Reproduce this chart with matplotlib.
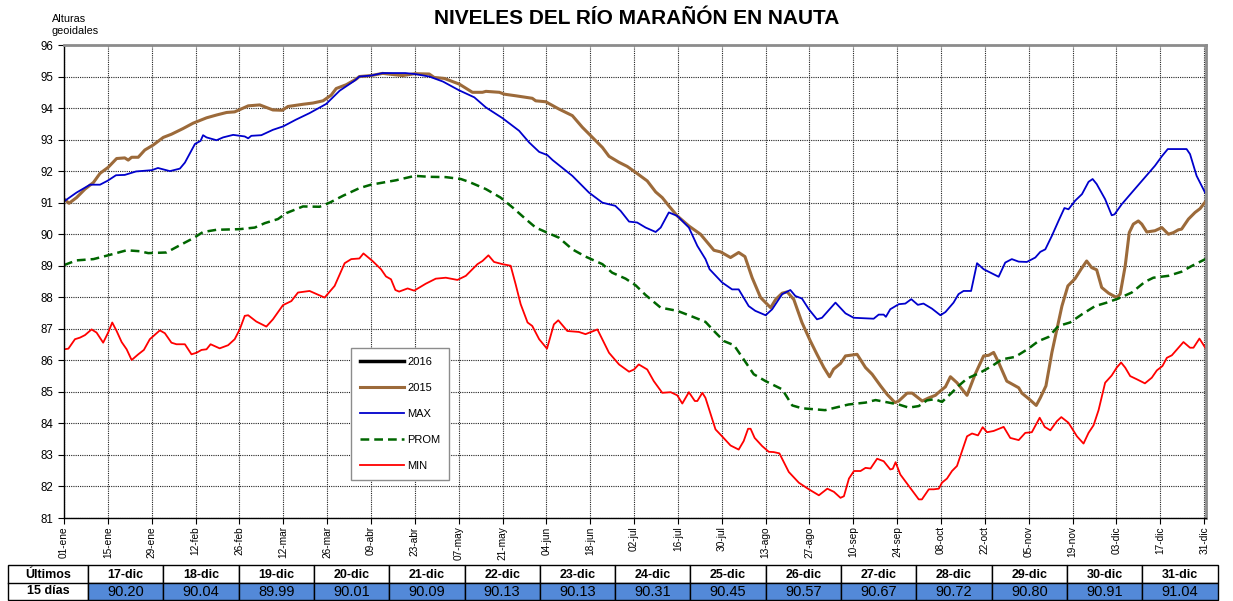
import matplotlib
matplotlib.use("Agg")
import matplotlib.pyplot as plt
from matplotlib.patches import Rectangle

plt.rcParams['font.family'] = ['Liberation Sans', 'DejaVu Sans']

# x = dia del año (0 = 01-ene)
TICK_LABELS = ["01-ene", "15-ene", "29-ene", "12-feb", "26-feb", "12-mar", "26-mar",
               "09-abr", "23-abr", "07-may", "21-may", "04-jun", "18-jun", "02-jul",
               "16-jul", "30-jul", "13-ago", "27-ago", "10-sep", "24-sep", "08-oct",
               "22-oct", "05-nov", "19-nov", "03-dic", "17-dic", "31-dic"]

max_days = [0, 4, 8.3, 11.5, 14, 16.6, 19.4, 23, 28, 30, 33.8, 37, 38.6, 41.8, 43.6, 44.4,
            45.5, 48.7, 50.8, 54, 57.7, 58.8, 59.8, 63, 66.7, 70, 74, 78.4, 83.7, 88, 92.8,
            94.3, 98, 101.7, 106, 109, 112, 116.6, 121, 126, 131, 134.7, 140, 145.3, 148.5,
            151.7, 154.3, 156, 162.3, 167.6, 171.9, 176, 177.7, 180.4, 183, 185.7, 188.9,
            190.5, 193.1, 195.8, 199.5, 202.2, 204.8, 206.1, 210.1, 213.3, 215.4, 218.6,
            220.7, 224, 226.1, 229.3, 231.9, 233.5, 235.6, 237.8, 240.4, 242, 246.3, 249.5,
            252.1, 258.5, 260.1, 261.7, 262.4, 263.8, 266.5, 268.6, 270.5, 272.6, 274.4,
            277.1, 279.8, 281.4, 284, 285.6, 287.2, 289.6, 291.5, 293.6, 298.4, 300.5,
            302.6, 304.8, 307.4, 310.1, 311.7, 313.3, 315.4, 317.5, 319.4, 320.7, 322.8,
            325, 327.1, 328.4, 329.7, 332.4, 334.5, 335.4, 337.7, 340.9, 345.1, 348.3,
            350.5, 352.4, 358.4, 359.5, 361.6, 364.3]
max_vals = [91.04, 91.32, 91.57, 91.57, 91.7, 91.87, 91.88, 91.99, 92.03, 92.1, 92.0, 92.08,
            92.27, 92.86, 92.96, 93.14, 93.07, 92.98, 93.07, 93.15, 93.1, 93.04, 93.12,
            93.14, 93.31, 93.42, 93.63, 93.84, 94.13, 94.55, 94.87, 95.0, 95.03, 95.11,
            95.11, 95.11, 95.08, 95.0, 94.84, 94.57, 94.34, 94.02, 93.68, 93.28, 92.91,
            92.61, 92.51, 92.35, 91.85, 91.32, 91.0, 90.9, 90.74, 90.4, 90.37, 90.21,
            90.07, 90.21, 90.69, 90.58, 90.21, 89.63, 89.21, 88.89, 88.47, 88.25, 88.25,
            87.72, 87.57, 87.43, 87.62, 88.1, 88.23, 88.04, 87.96, 87.62, 87.3, 87.35,
            87.83, 87.49, 87.35, 87.32, 87.45, 87.45, 87.38, 87.62, 87.78, 87.8, 87.94,
            87.76, 87.8, 87.64, 87.43, 87.53, 87.83, 88.1, 88.2, 88.2, 89.08, 88.89, 88.65,
            89.1, 89.21, 89.13, 89.12, 89.26, 89.44, 89.52, 89.95, 90.42, 90.83, 90.79,
            91.06, 91.27, 91.66, 91.75, 91.59, 91.11, 90.6, 90.63, 90.95, 91.32, 91.8,
            92.17, 92.47, 92.7, 92.7, 92.54, 91.85, 91.32]

y2015_days = [0, 1.6, 4, 6.7, 9.4, 11.5, 14.1, 16.8, 19.4, 20.5, 21.6, 23.7, 25.8, 28.5, 31.7,
              34.3, 38, 41.2, 45.5, 48.7, 51.9, 54.5, 58.8, 62.5, 64.6, 66.7, 69.7, 71.5,
              76.3, 79.5, 82.7, 85.3, 86.9, 90.1, 93.3, 94.3, 98, 101.7, 108.1, 112, 116.6,
              118.2, 121.4, 126.2, 130.4, 133.6, 134.7, 139, 140.6, 144.2, 149.5, 150.6,
              153.8, 158, 162.3, 165.5, 168.7, 171.9, 174, 177.2, 179.8, 182.5, 186.2,
              188.9, 191, 193.1, 195.8, 199.5, 203.2, 207.5, 209.6, 212.8, 215.4, 217.4,
              219.7, 222.4, 225.6, 227.2, 229.3, 230.9, 233, 235.6, 238.3, 240.4, 242.6,
              244.4, 245.7, 247.9, 249.5, 253.2, 255.9, 258, 260.7, 262.8, 265.3, 266.5,
              269.2, 270.8, 274, 276.1, 278.2, 279.8, 281.4, 283, 285.1, 288.3, 290.9,
              293.6, 295.2, 296.8, 298.4, 301, 303.7, 304.8, 305.8, 307.9, 310.4, 311.7,
              313.5, 315.4, 317, 318.6, 320.5, 322.8, 324.7, 326.5, 328.1, 329.7, 331.3,
              333.5, 336.1, 337.2, 338.8, 340.1, 341.4, 343, 344.1, 345.7, 348.3, 350.5,
              352.6, 354.2, 355.8, 356.8, 359, 361.1, 362.7, 364.5]
y2015_vals = [91.12, 90.98, 91.16, 91.43, 91.64, 91.93, 92.12, 92.4, 92.42, 92.35, 92.44,
              92.44, 92.67, 92.83, 93.07, 93.17, 93.35, 93.52, 93.69, 93.78, 93.86, 93.88,
              94.07, 94.1, 94.02, 93.94, 93.93, 94.05, 94.12, 94.16, 94.23, 94.41, 94.62,
              94.74, 94.92, 95.0, 95.03, 95.1, 95.03, 95.09, 95.08, 94.97, 94.94, 94.76,
              94.5, 94.5, 94.53, 94.5, 94.44, 94.39, 94.31, 94.23, 94.2, 93.97, 93.76,
              93.39, 93.07, 92.75, 92.47, 92.28, 92.15, 91.96, 91.69, 91.34, 91.16, 90.9,
              90.58, 90.26, 90.0, 89.49, 89.44, 89.26, 89.42, 89.29, 88.62, 87.99, 87.67,
              87.93, 88.13, 88.17, 87.93, 87.2, 86.61, 86.19, 85.77, 85.48, 85.72, 85.9,
              86.14, 86.19, 85.77, 85.56, 85.19, 84.92, 84.66, 84.71, 84.96, 84.96, 84.71,
              84.81, 84.89, 85.03, 85.16, 85.48, 85.29, 84.89, 85.56, 86.14, 86.16, 86.25,
              85.93, 85.34, 85.19, 85.13, 84.96, 84.79, 84.57, 84.81, 85.19, 86.25, 86.98,
              87.72, 88.36, 88.59, 88.89, 89.15, 88.94, 88.87, 88.31, 88.13, 87.99, 88.1,
              88.99, 90.05, 90.32, 90.42, 90.32, 90.07, 90.11, 90.21, 90.0, 90.05, 90.14,
              90.16, 90.48, 90.69, 90.81, 91.04]

prom_days = [0, 4, 9.4, 14.1, 20, 24.2, 26.9, 32.7, 37, 41.2, 44.4, 48.7, 56.1, 60.9, 64.1,
             68.3, 71, 76.3, 81.6, 84.8, 89.1, 94.3, 98, 106, 112, 116.6, 121.9, 126.7,
             129.3, 134.7, 139.4, 143.2, 147.4, 150.6, 153.8, 158, 162.3, 166.5, 171.9,
             175, 179.3, 182.5, 185.7, 190.5, 195.8, 200, 204.8, 208, 210.7, 213.9, 217,
             220.2, 224, 229.3, 232.5, 235.6, 243, 246.3, 250.5, 255.9, 259.1, 263.3,
             266.5, 269.7, 272.9, 275.5, 278.1, 280.3, 283.5, 285.6, 288.3, 292.5, 296.3,
             299.4, 303.7, 307.9, 311.1, 314.3, 317.5, 321.2, 325, 329.2, 332.9, 336.6,
             340.9, 345.1, 347.8, 352.6, 356.8, 360, 364.8]
prom_vals = [89.02, 89.17, 89.21, 89.33, 89.49, 89.46, 89.4, 89.42, 89.65, 89.87, 90.07,
             90.14, 90.16, 90.21, 90.35, 90.48, 90.67, 90.88, 90.87, 91.0, 91.22, 91.46,
             91.57, 91.71, 91.85, 91.82, 91.81, 91.75, 91.66, 91.43, 91.16, 90.85, 90.48,
             90.21, 90.07, 89.89, 89.52, 89.29, 89.05, 88.78, 88.59, 88.38, 88.07, 87.67,
             87.57, 87.41, 87.22, 86.88, 86.61, 86.48, 86.03, 85.56, 85.34, 85.08, 84.57,
             84.48, 84.42, 84.5, 84.6, 84.66, 84.74, 84.66, 84.6, 84.5, 84.55, 84.73,
             84.77, 84.68, 84.98, 85.19, 85.42, 85.61, 85.82, 86.03, 86.11, 86.37, 86.61,
             86.74, 87.09, 87.2, 87.46, 87.72, 87.83, 87.96, 88.15, 88.49, 88.62, 88.68,
             88.81, 88.99, 89.23]

min_days = [0, 1.4, 3.5, 5.1, 6.7, 8.8, 10.4, 12.5, 14.1, 15.4, 16.8, 18.4, 20, 21.6, 23.7,
            25.5, 27.4, 30.6, 32.2, 34.3, 35.9, 38.6, 40.7, 42.3, 43.9, 45.5, 46.8, 49.7,
            52.4, 54.5, 56.1, 57.7, 58.8, 61.4, 64.6, 66.7, 69.9, 72.6, 74.7, 78.4, 80,
            83.2, 86.4, 89.6, 91.7, 94.3, 95.6, 98.5, 101.2, 102.8, 104.4, 105.8, 107,
            109.7, 111.8, 115.5, 118.7, 121.9, 125.6, 128.3, 132, 133.6, 135.5, 137.3,
            140, 142.6, 144.2, 145.8, 148, 149.5, 151.7, 154.2, 156.4, 157.8, 160.7,
            164.4, 166.5, 170.3, 174, 177.2, 180.4, 182, 183.5, 186.2, 188.3, 191, 193.7,
            195.8, 197.4, 199.5, 201.4, 202.2, 203.8, 204.8, 208, 210.1, 212.8, 215.4,
            217, 218.4, 219.2, 220.5, 222.9, 225, 226.6, 228.4, 231.4, 234.6, 237.8, 241,
            243.7, 245.8, 247.9, 249, 250.6, 252.2, 254.3, 255.9, 257.5, 259.6, 261.7,
            263.8, 264.6, 265.5, 267, 270.2, 272.9, 273.9, 276.1, 277.7, 279.3, 280.3,
            281.9, 283.5, 285.1, 286.7, 288.3, 289.9, 291.8, 293.3, 294.7, 296.8, 300,
            302.1, 304.8, 306.9, 309, 311.5, 313.1, 314.9, 317, 318.4, 320.7, 323.4,
            325.5, 327.1, 328.7, 330.3, 332.4, 334.5, 336.1, 337.5, 338.8, 340.4, 342.5,
            345.1, 347.3, 348.9, 350.7, 352.1, 353.7, 355.8, 357.4, 359.5, 360.6, 362.5,
            364.5]
min_vals = [86.35, 86.37, 86.67, 86.72, 86.8, 86.98, 86.88, 86.56, 86.88, 87.2, 86.93,
            86.58, 86.35, 86.01, 86.19, 86.33, 86.67, 86.95, 86.86, 86.56, 86.51, 86.51,
            86.19, 86.24, 86.33, 86.35, 86.51, 86.38, 86.48, 86.67, 86.98, 87.41, 87.43,
            87.23, 87.07, 87.3, 87.75, 87.88, 88.15, 88.2, 88.13, 87.99, 88.36, 89.08,
            89.21, 89.23, 89.39, 89.15, 88.89, 88.66, 88.57, 88.23, 88.18, 88.28, 88.21,
            88.43, 88.59, 88.62, 88.55, 88.68, 89.05, 89.15, 89.33, 89.12, 89.05, 89.0,
            88.41, 87.78, 87.2, 87.09, 86.67, 86.37, 87.14, 87.27, 86.93, 86.9, 86.83,
            86.98, 86.24, 85.87, 85.64, 85.71, 85.87, 85.71, 85.34, 84.97, 84.99, 84.89,
            84.63, 84.99, 84.71, 84.71, 84.97, 84.81, 83.81, 83.59, 83.3, 83.17, 83.44,
            83.83, 83.83, 83.54, 83.28, 83.1, 83.09, 83.05, 82.46, 82.12, 81.91, 81.72,
            81.93, 81.83, 81.64, 81.69, 82.25, 82.49, 82.49, 82.59, 82.57, 82.88, 82.8,
            82.54, 82.56, 82.77, 82.38, 81.95, 81.59, 81.59, 81.91, 81.91, 81.93, 82.12,
            82.25, 82.49, 82.65, 83.12, 83.59, 83.68, 83.62, 83.88, 83.72, 83.76, 83.89,
            83.54, 83.47, 83.7, 83.72, 84.18, 83.89, 83.78, 84.07, 84.2, 84.02, 83.59,
            83.36, 83.7, 83.94, 84.42, 85.29, 85.52, 85.77, 85.93, 85.77, 85.5, 85.4,
            85.27, 85.45, 85.68, 85.82, 86.08, 86.16, 86.4, 86.58, 86.4, 86.4, 86.69,
            86.38]

# tabla de los ultimos 15 dias
table_dates = ["17-dic", "18-dic", "19-dic", "20-dic", "21-dic", "22-dic", "23-dic", "24-dic",
               "25-dic", "26-dic", "27-dic", "28-dic", "29-dic", "30-dic", "31-dic"]
table_vals = [90.20, 90.04, 89.99, 90.01, 90.09, 90.13, 90.13, 90.31, 90.45, 90.57,
              90.67, 90.72, 90.80, 90.91, 91.04]

W, H = 1233, 601
fig = plt.figure(figsize=(W / 100, H / 100), dpi=100)
ax = fig.add_axes([64 / W, 1 - 518 / H, (1206 - 64) / W, (518 - 45) / H])

ax.plot([], [], color="black", lw=2.5, label="2016")
ax.plot(y2015_days, y2015_vals, color="#9C6A3A", lw=2.2, label="2015")
ax.plot(max_days, max_vals, color="#0000CC", lw=1.3, label="MAX")
ax.plot(prom_days, prom_vals, color="#006600", lw=1.8, ls=(0, (3.5, 2)), label="PROM")
ax.plot(min_days, min_vals, color="#FF0000", lw=1.3, label="MIN")

ax.set_xlim(0, 364.6)
ax.set_ylim(81, 96)
ax.set_yticks(range(81, 97))
ax.set_xticks([14 * i for i in range(len(TICK_LABELS))])
ax.set_xticklabels(TICK_LABELS, rotation=90, fontsize=7.3)
ax.tick_params(axis="y", labelsize=8.3, length=4, direction="out")
ax.tick_params(axis="x", length=4, direction="out", pad=2)
ax.grid(True, color="#222222", ls=(0, (1, 1)), lw=0.8)

for side in ("left", "bottom"):
    ax.spines[side].set_color("black")
    ax.spines[side].set_linewidth(1.0)
for side in ("top", "right"):
    ax.spines[side].set_color("#8c8c8c")
    ax.spines[side].set_linewidth(2.0)

leg = ax.legend(loc="lower left", bbox_to_anchor=(0.251, 0.08), fontsize=8,
                handlelength=4.0, labelspacing=1.45, borderpad=0.8, handletextpad=0.3,
                fancybox=False, framealpha=1.0, borderaxespad=0)
leg.get_frame().set_edgecolor("#8c8c8c")
leg.get_frame().set_linewidth(1.0)

fig.text(637 / W, 1 - 18 / H, "NIVELES DEL RÍO MARAÑÓN EN NAUTA", ha="center", va="center",
         fontsize=15, fontweight="bold")
fig.text(52 / W, 1 - 25 / H, "Alturas\ngeoidales", ha="left", va="center", fontsize=7.8,
         linespacing=1.35)

# tabla
tax = fig.add_axes([0, 0, 1, 1])
tax.set_xlim(0, W)
tax.set_ylim(H, 0)
tax.axis("off")
top, mid, bot = 565, 583, 600
first_l, first_r = 8, 88
col_w = 75.3
tax.add_patch(Rectangle((first_l, top), first_r - first_l, bot - top, fill=False,
                        edgecolor="black", lw=1))
tax.plot([first_l, first_r], [mid, mid], color="black", lw=1)
tax.text((first_l + first_r) / 2, (top + mid) / 2 + 1, "Últimos", ha="center", va="center",
         fontsize=9, fontweight="bold")
tax.text((first_l + first_r) / 2, (mid + bot) / 2, "15 días", ha="center", va="center",
         fontsize=9, fontweight="bold")
for i, (d, v) in enumerate(zip(table_dates, table_vals)):
    x0 = first_r + i * col_w
    tax.add_patch(Rectangle((x0, top), col_w, mid - top, facecolor="white",
                            edgecolor="black", lw=1))
    tax.add_patch(Rectangle((x0, mid), col_w, bot - mid, facecolor="#5389D8",
                            edgecolor="black", lw=1))
    tax.text(x0 + col_w / 2, (top + mid) / 2 + 0.5, d, ha="center", va="center",
             fontsize=9, fontweight="bold")
    tax.text(x0 + col_w / 2, (mid + bot) / 2 + 0.5, f"{v:.2f}", ha="center", va="center",
             fontsize=10.5)

fig.savefig("out.png", dpi=100)
